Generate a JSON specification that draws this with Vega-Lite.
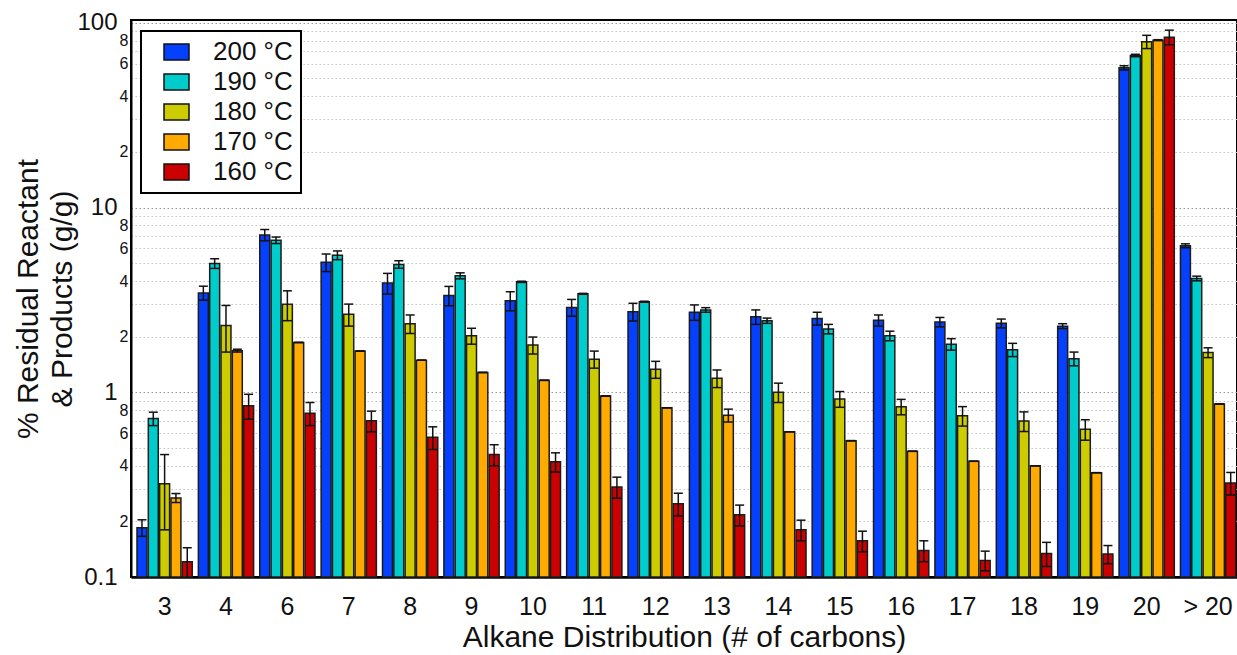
{
  "$schema": "https://vega.github.io/schema/vega-lite/v6.json",
  "width": 1106,
  "height": 557,
  "autosize": {"type": "none"},
  "padding": {"left": 131, "top": 20, "right": 0, "bottom": 78},
  "background": "white",
  "config": {
    "font": "Liberation Sans",
    "view": {"stroke": "black", "strokeWidth": 2},
    "legend": {
      "orient": "none",
      "legendX": 10,
      "legendY": 11,
      "title": null,
      "padding": 8,
      "rowPadding": 4,
      "strokeColor": "black",
      "strokeWidth": 2,
      "fillColor": "white",
      "cornerRadius": 0,
      "symbolType": "M0.25,-1H3.375V1H0.25Z",
      "symbolSize": 256,
      "symbolStrokeColor": "#111111",
      "symbolStrokeWidth": 1.5,
      "symbolOpacity": 1,
      "labelFont": "Liberation Sans",
      "labelFontSize": 26,
      "labelColor": "#111111",
      "labelOffset": 38
    }
  },
  "data": {
    "values": [
      {"carbons": "3", "temp": "200 °C", "value": 0.185, "lo": 0.166, "hi": 0.204},
      {"carbons": "3", "temp": "190 °C", "value": 0.72, "lo": 0.66, "hi": 0.78},
      {"carbons": "3", "temp": "180 °C", "value": 0.32, "lo": 0.18, "hi": 0.46},
      {"carbons": "3", "temp": "170 °C", "value": 0.268, "lo": 0.253, "hi": 0.283},
      {"carbons": "3", "temp": "160 °C", "value": 0.121, "lo": 0.098, "hi": 0.144},

      {"carbons": "4", "temp": "200 °C", "value": 3.45, "lo": 3.15, "hi": 3.75},
      {"carbons": "4", "temp": "190 °C", "value": 4.98, "lo": 4.68, "hi": 5.28},
      {"carbons": "4", "temp": "180 °C", "value": 2.3, "lo": 1.65, "hi": 2.95},
      {"carbons": "4", "temp": "170 °C", "value": 1.68, "lo": 1.65, "hi": 1.71},
      {"carbons": "4", "temp": "160 °C", "value": 0.845, "lo": 0.715, "hi": 0.975},

      {"carbons": "6", "temp": "200 °C", "value": 7.1, "lo": 6.6, "hi": 7.6},
      {"carbons": "6", "temp": "190 °C", "value": 6.65, "lo": 6.38, "hi": 6.92},
      {"carbons": "6", "temp": "180 °C", "value": 2.99, "lo": 2.44, "hi": 3.54},
      {"carbons": "6", "temp": "170 °C", "value": 1.86, "lo": 1.86, "hi": 1.86},
      {"carbons": "6", "temp": "160 °C", "value": 0.77, "lo": 0.66, "hi": 0.88},

      {"carbons": "7", "temp": "200 °C", "value": 5.05, "lo": 4.5, "hi": 5.6},
      {"carbons": "7", "temp": "190 °C", "value": 5.52, "lo": 5.22, "hi": 5.82},
      {"carbons": "7", "temp": "180 °C", "value": 2.64, "lo": 2.28, "hi": 3.0},
      {"carbons": "7", "temp": "170 °C", "value": 1.67, "lo": 1.67, "hi": 1.67},
      {"carbons": "7", "temp": "160 °C", "value": 0.7, "lo": 0.61, "hi": 0.79},

      {"carbons": "8", "temp": "200 °C", "value": 3.9, "lo": 3.4, "hi": 4.4},
      {"carbons": "8", "temp": "190 °C", "value": 4.92, "lo": 4.69, "hi": 5.15},
      {"carbons": "8", "temp": "180 °C", "value": 2.35, "lo": 2.08, "hi": 2.62},
      {"carbons": "8", "temp": "170 °C", "value": 1.49, "lo": 1.49, "hi": 1.49},
      {"carbons": "8", "temp": "160 °C", "value": 0.57, "lo": 0.49, "hi": 0.65},

      {"carbons": "9", "temp": "200 °C", "value": 3.34, "lo": 2.94, "hi": 3.74},
      {"carbons": "9", "temp": "190 °C", "value": 4.27, "lo": 4.11, "hi": 4.43},
      {"carbons": "9", "temp": "180 °C", "value": 2.02, "lo": 1.82, "hi": 2.22},
      {"carbons": "9", "temp": "170 °C", "value": 1.28, "lo": 1.28, "hi": 1.28},
      {"carbons": "9", "temp": "160 °C", "value": 0.46, "lo": 0.4, "hi": 0.52},

      {"carbons": "10", "temp": "200 °C", "value": 3.13, "lo": 2.76, "hi": 3.5},
      {"carbons": "10", "temp": "190 °C", "value": 3.96, "lo": 3.93, "hi": 3.99},
      {"carbons": "10", "temp": "180 °C", "value": 1.8, "lo": 1.61, "hi": 1.99},
      {"carbons": "10", "temp": "170 °C", "value": 1.16, "lo": 1.16, "hi": 1.16},
      {"carbons": "10", "temp": "160 °C", "value": 0.42, "lo": 0.37, "hi": 0.47},

      {"carbons": "11", "temp": "200 °C", "value": 2.88, "lo": 2.58, "hi": 3.18},
      {"carbons": "11", "temp": "190 °C", "value": 3.41, "lo": 3.39, "hi": 3.43},
      {"carbons": "11", "temp": "180 °C", "value": 1.51, "lo": 1.35, "hi": 1.67},
      {"carbons": "11", "temp": "170 °C", "value": 0.953, "lo": 0.953, "hi": 0.953},
      {"carbons": "11", "temp": "160 °C", "value": 0.307, "lo": 0.267, "hi": 0.347},

      {"carbons": "12", "temp": "200 °C", "value": 2.73, "lo": 2.43, "hi": 3.03},
      {"carbons": "12", "temp": "190 °C", "value": 3.09, "lo": 3.07, "hi": 3.11},
      {"carbons": "12", "temp": "180 °C", "value": 1.33, "lo": 1.19, "hi": 1.47},
      {"carbons": "12", "temp": "170 °C", "value": 0.824, "lo": 0.824, "hi": 0.824},
      {"carbons": "12", "temp": "160 °C", "value": 0.249, "lo": 0.214, "hi": 0.284},

      {"carbons": "13", "temp": "200 °C", "value": 2.71, "lo": 2.45, "hi": 2.97},
      {"carbons": "13", "temp": "190 °C", "value": 2.79, "lo": 2.71, "hi": 2.87},
      {"carbons": "13", "temp": "180 °C", "value": 1.19, "lo": 1.06, "hi": 1.32},
      {"carbons": "13", "temp": "170 °C", "value": 0.75, "lo": 0.69, "hi": 0.81},
      {"carbons": "13", "temp": "160 °C", "value": 0.217, "lo": 0.189, "hi": 0.245},

      {"carbons": "14", "temp": "200 °C", "value": 2.56, "lo": 2.33, "hi": 2.79},
      {"carbons": "14", "temp": "190 °C", "value": 2.44, "lo": 2.36, "hi": 2.52},
      {"carbons": "14", "temp": "180 °C", "value": 1.0, "lo": 0.88, "hi": 1.12},
      {"carbons": "14", "temp": "170 °C", "value": 0.611, "lo": 0.611, "hi": 0.611},
      {"carbons": "14", "temp": "160 °C", "value": 0.18, "lo": 0.157, "hi": 0.203},

      {"carbons": "15", "temp": "200 °C", "value": 2.51, "lo": 2.31, "hi": 2.71},
      {"carbons": "15", "temp": "190 °C", "value": 2.2, "lo": 2.07, "hi": 2.33},
      {"carbons": "15", "temp": "180 °C", "value": 0.919, "lo": 0.829, "hi": 1.009},
      {"carbons": "15", "temp": "170 °C", "value": 0.547, "lo": 0.547, "hi": 0.547},
      {"carbons": "15", "temp": "160 °C", "value": 0.157, "lo": 0.137, "hi": 0.177},

      {"carbons": "16", "temp": "200 °C", "value": 2.45, "lo": 2.28, "hi": 2.62},
      {"carbons": "16", "temp": "190 °C", "value": 2.02, "lo": 1.9, "hi": 2.14},
      {"carbons": "16", "temp": "180 °C", "value": 0.835, "lo": 0.755, "hi": 0.915},
      {"carbons": "16", "temp": "170 °C", "value": 0.479, "lo": 0.479, "hi": 0.479},
      {"carbons": "16", "temp": "160 °C", "value": 0.139, "lo": 0.121, "hi": 0.157},

      {"carbons": "17", "temp": "200 °C", "value": 2.4, "lo": 2.26, "hi": 2.54},
      {"carbons": "17", "temp": "190 °C", "value": 1.82, "lo": 1.69, "hi": 1.95},
      {"carbons": "17", "temp": "180 °C", "value": 0.746, "lo": 0.656, "hi": 0.836},
      {"carbons": "17", "temp": "170 °C", "value": 0.423, "lo": 0.423, "hi": 0.423},
      {"carbons": "17", "temp": "160 °C", "value": 0.123, "lo": 0.108, "hi": 0.138},

      {"carbons": "18", "temp": "200 °C", "value": 2.36, "lo": 2.23, "hi": 2.49},
      {"carbons": "18", "temp": "190 °C", "value": 1.7, "lo": 1.56, "hi": 1.84},
      {"carbons": "18", "temp": "180 °C", "value": 0.698, "lo": 0.613, "hi": 0.783},
      {"carbons": "18", "temp": "170 °C", "value": 0.4, "lo": 0.4, "hi": 0.4},
      {"carbons": "18", "temp": "160 °C", "value": 0.134, "lo": 0.114, "hi": 0.154},

      {"carbons": "19", "temp": "200 °C", "value": 2.28, "lo": 2.21, "hi": 2.35},
      {"carbons": "19", "temp": "190 °C", "value": 1.52, "lo": 1.39, "hi": 1.65},
      {"carbons": "19", "temp": "180 °C", "value": 0.63, "lo": 0.55, "hi": 0.71},
      {"carbons": "19", "temp": "170 °C", "value": 0.367, "lo": 0.367, "hi": 0.367},
      {"carbons": "19", "temp": "160 °C", "value": 0.133, "lo": 0.118, "hi": 0.148},

      {"carbons": "20", "temp": "200 °C", "value": 57, "lo": 55.5, "hi": 58.5},
      {"carbons": "20", "temp": "190 °C", "value": 66.5, "lo": 65.5, "hi": 67.5},
      {"carbons": "20", "temp": "180 °C", "value": 79, "lo": 72.5, "hi": 85.5},
      {"carbons": "20", "temp": "170 °C", "value": 80.5, "lo": 80, "hi": 81},
      {"carbons": "20", "temp": "160 °C", "value": 83.6, "lo": 76, "hi": 91.2},

      {"carbons": "> 20", "temp": "200 °C", "value": 6.21, "lo": 6.06, "hi": 6.36},
      {"carbons": "> 20", "temp": "190 °C", "value": 4.13, "lo": 4.01, "hi": 4.25},
      {"carbons": "> 20", "temp": "180 °C", "value": 1.64, "lo": 1.54, "hi": 1.74},
      {"carbons": "> 20", "temp": "170 °C", "value": 0.863, "lo": 0.863, "hi": 0.863},
      {"carbons": "> 20", "temp": "160 °C", "value": 0.323, "lo": 0.278, "hi": 0.368}
    ]
  },
  "encoding": {
    "x": {
      "field": "carbons",
      "type": "nominal",
      "sort": ["3", "4", "6", "7", "8", "9", "10", "11", "12", "13", "14", "15", "16", "17", "18", "19", "20", "> 20"],
      "scale": {"paddingInner": 0.1, "paddingOuter": 0.0595, "align": 0.82},
      "axis": {
        "title": "Alkane Distribution (# of carbons)",
        "labelAngle": 0,
        "labelFontSize": 25,
        "labelColor": "#111111",
        "labelPadding": 17,
        "ticks": false,
        "tickSize": 0,
        "domainColor": "black",
        "domainWidth": 2.5,
        "titleFontSize": 30,
        "titleFontWeight": "normal",
        "titleColor": "#111111",
        "titlePadding": 3
      }
    },
    "xOffset": {
      "field": "temp",
      "type": "nominal",
      "sort": ["200 °C", "190 °C", "180 °C", "170 °C", "160 °C"],
      "scale": {"paddingInner": 0.12, "paddingOuter": 0}
    }
  },
  "layer": [
    {
      "mark": {"type": "bar", "stroke": "#1c1c1c", "strokeWidth": 1.5},
      "encoding": {
        "y": {
          "field": "value",
          "type": "quantitative",
          "scale": {"type": "log", "domain": [0.1, 103.5], "nice": false},
          "axis": {
            "title": ["% Residual Reactant", "& Products (g/g)"],
            "titleFontSize": 30,
            "titleFontWeight": "normal",
            "titleColor": "#111111",
            "titleLineHeight": 34,
            "titlePadding": -1,
            "values": [0.1, 0.2, 0.3, 0.4, 0.5, 0.6, 0.7, 0.8, 0.9, 1, 2, 3, 4, 5, 6, 7, 8, 9, 10, 20, 30, 40, 50, 60, 70, 80, 90, 100],
            "format": "~g",
            "labelExpr": "abs(log(datum.value)/LN10 - round(log(datum.value)/LN10)) < 1e-6 ? datum.label : (round(datum.value / pow(10, floor(log(datum.value)/LN10 + 1e-6))) % 2 == 0 ? '' + round(datum.value / pow(10, floor(log(datum.value)/LN10 + 1e-6))) : '')",
            "labelOverlap": false,
            "labelColor": "#111111",
            "labelFontSize": {"condition": {"test": "abs(log(datum.value)/LN10 - round(log(datum.value)/LN10)) < 1e-6", "value": 24}, "value": 16},
            "labelPadding": {"condition": {"test": "abs(log(datum.value)/LN10 - round(log(datum.value)/LN10)) < 1e-6", "value": 14}, "value": 3},
            "ticks": false,
            "domainColor": "black",
            "domainWidth": 2,
            "grid": true,
            "gridDash": [1.5, 2.5],
            "gridWidth": 1,
            "gridColor": {"condition": {"test": "abs(log(datum.value)/LN10 - round(log(datum.value)/LN10)) < 1e-6", "value": "#9a9a9a"}, "value": "#c4c4c4"}
          }
        },
        "y2": {"datum": 0.1},
        "color": {
          "field": "temp",
          "type": "nominal",
          "scale": {
            "domain": ["200 °C", "190 °C", "180 °C", "170 °C", "160 °C"],
            "range": ["#0540ff", "#00cccc", "#cccc00", "#ffaa00", "#cc0000"]
          },
          "legend": {}
        }
      }
    },
    {
      "mark": {"type": "rule", "color": "#111111", "strokeWidth": 1.5, "clip": true},
      "encoding": {
        "y": {"field": "lo", "type": "quantitative", "scale": {"type": "log", "domain": [0.1, 103.5], "nice": false}},
        "y2": {"field": "hi"}
      }
    },
    {
      "mark": {"type": "tick", "color": "#111111", "thickness": 1.5, "size": 9, "opacity": 1, "clip": true},
      "encoding": {
        "y": {"field": "lo", "type": "quantitative", "scale": {"type": "log", "domain": [0.1, 103.5], "nice": false}}
      }
    },
    {
      "mark": {"type": "tick", "color": "#111111", "thickness": 1.5, "size": 9, "opacity": 1, "clip": true},
      "encoding": {
        "y": {"field": "hi", "type": "quantitative", "scale": {"type": "log", "domain": [0.1, 103.5], "nice": false}}
      }
    }
  ]
}
